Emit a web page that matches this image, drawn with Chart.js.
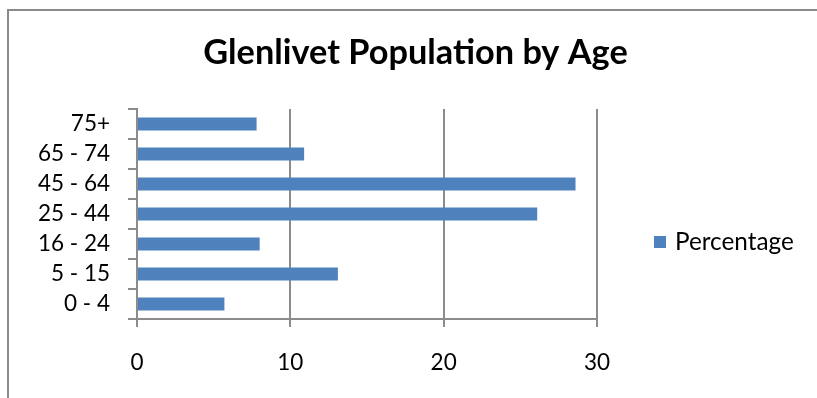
<!DOCTYPE html>
<html><head><meta charset="utf-8">
<script src="https://cdn.jsdelivr.net/npm/chart.js@4/dist/chart.umd.min.js"></script>
<style>html,body{margin:0;padding:0;background:#fff;overflow:hidden}#wrap{width:817px;height:398px;position:relative}</style>
</head><body><div id="wrap"><canvas id="c" width="817" height="398"></canvas></div>
<script>
const chartTitle = 'Glenlivet Population by Age';
const categories = ['0 - 4', '5 - 15', '16 - 24', '25 - 44', '45 - 64', '65 - 74', '75+'];
const percentages = [5.7, 13.1, 8.0, 26.1, 28.6, 10.9, 7.8];
const seriesName = 'Percentage';
const xTicks = [0, 10, 20, 30];

const barColor = '#4F81BD';
const gridColor = '#8c8c8c';
const fontFamily = 'Lato, Carlito, "Open Sans", sans-serif';

const decor = {
  id: 'decor',
  beforeDraw(chart) {
    const ctx = chart.ctx;
    ctx.save();
    ctx.strokeStyle = '#8a8a8a';
    ctx.lineWidth = 2;
    ctx.beginPath();
    ctx.moveTo(8, 430);
    ctx.lineTo(8, 10);
    ctx.lineTo(840, 10);
    ctx.stroke();
    ctx.restore();
  },
  afterDraw(chart) {
    const ctx = chart.ctx;
    ctx.save();
    ctx.fillStyle = '#000';
    ctx.font = 'bold 34.3px ' + fontFamily;
    ctx.textAlign = 'center';
    ctx.textBaseline = 'alphabetic';
    ctx.fillText(chartTitle, 415.5, 63.5);
    const ds = chart.data.datasets[0];
    ctx.fillStyle = ds.backgroundColor;
    ctx.fillRect(654, 236, 12, 12);
    ctx.fillStyle = '#000';
    ctx.font = '24.3px ' + fontFamily;
    ctx.textAlign = 'left';
    ctx.fillText(ds.label, 675, 249.5);
    ctx.restore();
  }
};

new Chart(document.getElementById('c'), {
  type: 'bar',
  data: {
    labels: categories,
    datasets: [{
      label: seriesName,
      data: percentages,
      backgroundColor: barColor,
      borderWidth: 0,
      barPercentage: 0.43,
      categoryPercentage: 1.0
    }]
  },
  options: {
    indexAxis: 'y',
    responsive: false,
    animation: false,
    devicePixelRatio: 1,
    layout: { padding: { top: 109, right: 220, bottom: 0, left: 0 } },
    plugins: {
      legend: { display: false },
      title: { display: false },
      tooltip: { enabled: false }
    },
    scales: {
      x: {
        type: 'linear',
        min: 0, max: 30,
        afterBuildTicks: s => { s.ticks = xTicks.map(v => ({ value: v })); },
        afterFit: s => { s.height = 79; },
        grid: { color: gridColor, lineWidth: 2, drawTicks: true, tickLength: 8, tickColor: gridColor },
        border: { display: true, color: gridColor, width: 2 },
        ticks: { color: '#000', font: { family: fontFamily, size: 22.5 }, padding: 22, maxRotation: 0 }
      },
      y: {
        type: 'category',
        reverse: true,
        offset: true,
        afterFit: s => { s.width = 137; },
        grid: { offset: true, drawOnChartArea: false, drawTicks: true, tickLength: 9, color: gridColor, lineWidth: 2 },
        border: { display: true, color: gridColor, width: 2 },
        ticks: { color: '#000', font: { family: fontFamily, size: 22.5 }, padding: 18 }
      }
    }
  },
  plugins: [decor]
});
</script>
</body></html>
